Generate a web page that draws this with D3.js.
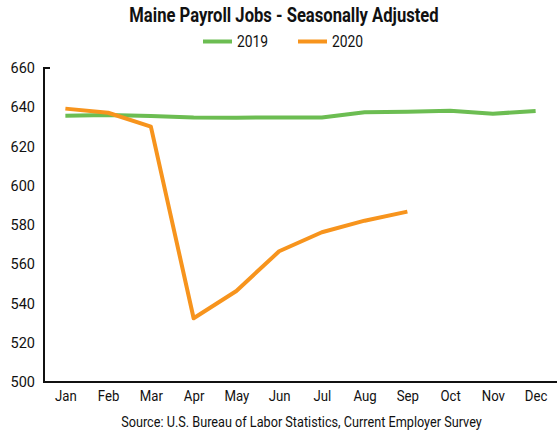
<!DOCTYPE html>
<html lang="en">
<head>
<meta charset="UTF-8">
<title>Maine Payroll Jobs</title>
<script src="https://d3js.org/d3.v7.min.js"></script>
<style>
  * { margin: 0; padding: 0; }
  body { background: #fff; }
  text { font-family: "Roboto", sans-serif; fill: #111; }
</style>
</head>
<body>
<svg id="chart" width="557" height="431"></svg>
<script>
// Data (thousands of jobs)
const months = ['Jan','Feb','Mar','Apr','May','Jun','Jul','Aug','Sep','Oct','Nov','Dec'];
const jobs2019 = [635.7, 636.0, 635.6, 634.8, 634.7, 634.8, 634.8, 637.4, 637.7, 638.2, 636.7, 638.1];
const jobs2020 = [639.3, 637.2, 630.1, 532.5, 546.4, 566.6, 576.3, 582.2, 586.8];
const yTicks = [500, 520, 540, 560, 580, 600, 620, 640, 660];
const seriesNames = ['2019', '2020'];
const seriesColors = ['#6cbd52', '#f7941d'];

const svg = d3.select('#chart');
const margin = { top: 68, right: 0, bottom: 49, left: 44 };
const width = 557, height = 431;

const x = d3.scalePoint().domain(months).range([margin.left, width - margin.right]).padding(0.5);
const y = d3.scaleLinear().domain([500, 660]).range([height - margin.bottom, margin.top]);

// squeeze text horizontally to mimic the condensed face of the original
function condense(sel, f) {
  sel.each(function() {
    const len = this.getComputedTextLength();
    d3.select(this).attr('textLength', len * f).attr('lengthAdjust', 'spacingAndGlyphs');
  });
}

// Title
svg.append('text')
  .attr('x', 284).attr('y', 22)
  .attr('text-anchor', 'middle')
  .style('font-size', '20px').style('font-weight', 'bold')
  .text('Maine Payroll Jobs - Seasonally Adjusted')
  .call(condense, 0.83);

// Legend
const legendX = [203, 298];
seriesNames.forEach((name, i) => {
  svg.append('line')
    .attr('x1', legendX[i]).attr('x2', legendX[i] + 29)
    .attr('y1', 41.5).attr('y2', 41.5)
    .attr('stroke', seriesColors[i]).attr('stroke-width', 4);
  svg.append('text')
    .attr('x', legendX[i] + 34).attr('y', 47)
    .style('font-size', '16.5px')
    .text(name)
    .call(condense, 0.84);
});

// Y axis
const yAxis = svg.append('g')
  .attr('transform', `translate(${margin.left},0)`)
  .call(d3.axisLeft(y).tickValues(yTicks).tickSize(0).tickPadding(9));
yAxis.select('.domain').remove();
yAxis.selectAll('text').style('font-size', '14.5px').attr('fill', '#111');
svg.append('path')
  .attr('d', `M${margin.left + 6},${y(660)}H${margin.left}V${y(500)}H${width}`)
  .attr('fill', 'none').attr('stroke', '#111').attr('stroke-width', 2);

// X axis
const xAxis = svg.append('g')
  .attr('transform', `translate(0,${y(500)})`)
  .call(d3.axisBottom(x).tickSize(0).tickPadding(8));
xAxis.select('.domain').remove();
xAxis.selectAll('text').style('font-size', '15px').attr('fill', '#111').call(condense, 0.88);

// Lines
const line = d3.line()
  .x((d, i) => x(months[i]))
  .y(d => y(d));

[jobs2019, jobs2020].forEach((values, i) => {
  svg.append('path')
    .datum(values)
    .attr('fill', 'none')
    .attr('stroke', seriesColors[i])
    .attr('stroke-width', 4)
    .attr('stroke-linejoin', 'round')
    .attr('d', line);
});

// Source
svg.append('text')
  .attr('x', 301.5).attr('y', 427)
  .attr('text-anchor', 'middle')
  .style('font-size', '15px')
  .text('Source: U.S. Bureau of Labor Statistics, Current Employer Survey')
  .call(condense, 0.845);
</script>
</body>
</html>
